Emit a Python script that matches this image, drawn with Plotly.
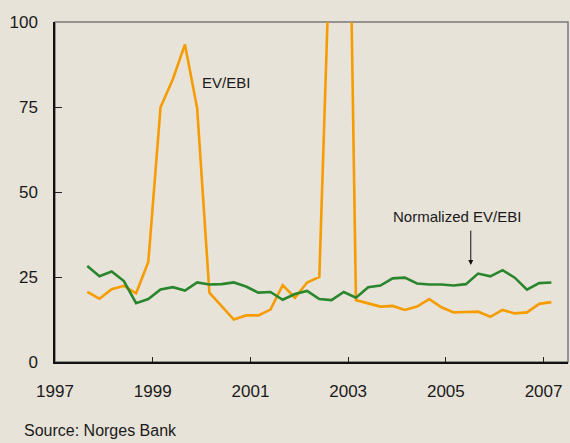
import plotly.graph_objects as go

# quarterly observation times (decimal years)
quarters = [
    1997.66, 1997.91, 1998.16, 1998.41, 1998.66, 1998.91, 1999.16, 1999.41,
    1999.66, 1999.91, 2000.16, 2000.41, 2000.66, 2000.91, 2001.16, 2001.41,
    2001.66, 2001.91, 2002.16, 2002.41, 2002.66, 2002.91, 2003.16, 2003.41,
    2003.66, 2003.91, 2004.16, 2004.41, 2004.66, 2004.91, 2005.16, 2005.41,
    2005.66, 2005.91, 2006.16, 2006.41, 2006.66, 2006.91, 2007.16,
]

ev_ebi = [
    20.6, 18.6, 21.4, 22.4, 20.2, 29.4, 74.9, 83.1,
    93.4, 74.6, 20.4, 16.3, 12.5, 13.7, 13.7, 15.4,
    22.6, 18.9, 23.4, 25.0, 136.0, 250.0, 18.2, 17.3,
    16.3, 16.5, 15.3, 16.3, 18.5, 16.1, 14.6, 14.7,
    14.8, 13.3, 15.3, 14.3, 14.6, 17.1, 17.6,
]

normalized_ev_ebi = [
    28.2, 25.2, 26.6, 23.8, 17.3, 18.5, 21.3, 22.0,
    21.0, 23.4, 22.8, 22.9, 23.4, 22.2, 20.4, 20.6,
    18.3, 20.0, 20.9, 18.5, 18.2, 20.6, 18.9, 22.0,
    22.5, 24.6, 24.8, 23.1, 22.8, 22.8, 22.5, 22.9,
    26.0, 25.2, 27.0, 24.8, 21.3, 23.2, 23.4,
]

x_ticks = [1997, 1999, 2001, 2003, 2005, 2007]
y_ticks = [0, 25, 50, 75, 100]

BG = "#E8E3D9"
ORANGE = "#F59C00"
GREEN = "#2A862C"
SANS = "Liberation Sans, Arial, sans-serif"

fig = go.Figure()
fig.add_trace(go.Scatter(x=quarters, y=ev_ebi, mode="lines", name="EV/EBI",
                         line=dict(color=ORANGE, width=2.6), hoverinfo="skip"))
fig.add_trace(go.Scatter(x=quarters, y=normalized_ev_ebi, mode="lines",
                         name="Normalized EV/EBI",
                         line=dict(color=GREEN, width=2.6), hoverinfo="skip"))

# gray frame (top / right)
fig.add_shape(type="rect", xref="paper", yref="paper", x0=0, y0=0, x1=1, y1=1,
              line=dict(color="#7a7a7a", width=1.5), layer="below")

fig.update_layout(
    width=570, height=443,
    margin=dict(l=55, r=2, t=22, b=81),
    paper_bgcolor=BG, plot_bgcolor=BG,
    showlegend=False,
    font=dict(family=SANS, size=17, color="#1a1a1a"),
    xaxis=dict(range=[1997, 2007.5], tickvals=x_ticks,
               ticktext=[str(t) for t in x_ticks],
               ticks="inside", ticklen=5, tickwidth=1, tickcolor="#222",
               showline=True, linecolor="#111", linewidth=1.5,
               showgrid=False, zeroline=False, ticklabelstandoff=13),
    yaxis=dict(range=[0, 100], tickvals=y_ticks,
               ticks="inside", ticklen=7, tickwidth=1, tickcolor="#222",
               showline=True, linecolor="#111", linewidth=1.5,
               showgrid=False, zeroline=False, ticklabelstandoff=12),
)

fig.add_annotation(x=2000.51, y=82.3, text="EV/EBI", showarrow=False,
                   font=dict(family=SANS, size=15, color="#1a1a1a"))
fig.add_annotation(x=2005.23, y=42.7, text="Normalized EV/EBI", showarrow=False,
                   font=dict(family=SANS, size=15, color="#1a1a1a"))
fig.add_annotation(x=2005.51, y=28.5, text="", showarrow=True,
                   ax=0, ay=-36, arrowhead=2, arrowsize=1, arrowwidth=1,
                   arrowcolor="#111")
fig.add_annotation(xref="paper", yref="paper", x=-0.064, y=-0.232,
                   xanchor="left", yanchor="bottom", showarrow=False,
                   text="Source: Norges Bank",
                   font=dict(family=SANS, size=16, color="#1a1a1a"))

fig.write_html(
    "out.html",
    config={"displayModeBar": False},
    post_script="document.body.style.margin='0';document.body.style.overflow='hidden';",
)
